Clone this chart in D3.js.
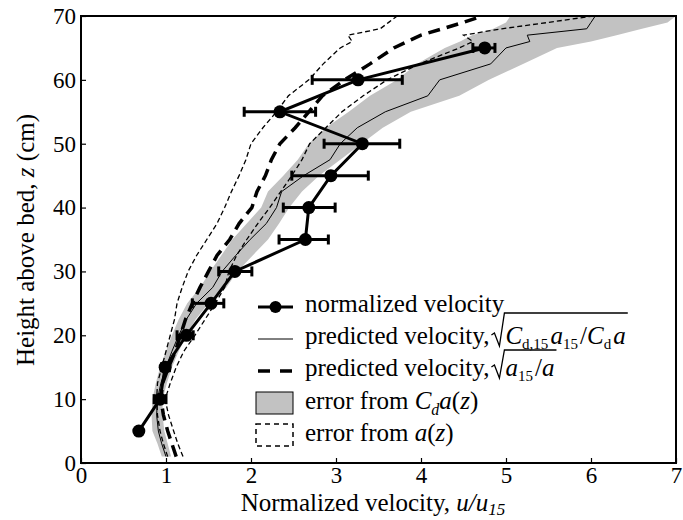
<!DOCTYPE html>
<html><head><meta charset="utf-8">
<script src="https://cdn.jsdelivr.net/npm/d3@7"></script>
<style>
body{margin:0;background:#fff}
svg{display:block}
text{font-family:"Liberation Serif","Times New Roman",serif;fill:#000}
</style>
</head><body>
<svg id="c" width="683" height="520"></svg>
<script>
// ---- data ----
const zGrid  = [1,3,5,7.5,10,12.5,15,17.5,20,22.5,25,27.5,30,32.5,35,37.5,40,42.5,45,47.5,50,52.5,55,57.5,60,62.5,65,66,67,68,69,70];
const cdLo   = [0.95,0.90,0.84,0.83,0.84,0.88,0.93,1.00,1.07,1.15,1.25,1.40,1.52,1.65,1.78,1.95,2.12,2.20,2.38,2.55,2.68,2.88,3.15,3.40,3.72,3.95,4.28,4.46,4.60,4.85,5.00,5.05];
const cdHi   = [1.06,1.02,0.98,0.96,0.96,1.01,1.07,1.15,1.24,1.35,1.50,1.71,1.84,2.02,2.20,2.33,2.45,2.60,2.80,3.05,3.30,3.55,3.88,4.45,4.80,5.20,5.60,6.00,6.30,6.60,6.90,7.00];
const predCd = [1.00,0.95,0.91,0.89,0.90,0.94,1.00,1.07,1.15,1.24,1.36,1.55,1.66,1.82,1.99,2.18,2.30,2.36,2.62,2.93,3.05,3.25,3.58,4.08,4.22,4.82,5.00,5.28,5.25,5.95,6.00,6.05];
const predA  = [1.12,1.07,1.02,0.97,0.94,0.96,1.03,1.11,1.17,1.23,1.31,1.40,1.50,1.60,1.75,1.86,2.01,2.07,2.17,2.24,2.34,2.52,2.68,2.84,3.10,3.40,3.68,3.84,4.00,4.25,4.50,4.72];
const aLo    = [1.02,0.97,0.93,0.90,0.89,0.90,0.95,1.00,1.05,1.10,1.13,1.19,1.26,1.36,1.48,1.60,1.69,1.77,1.86,1.94,2.00,2.14,2.30,2.44,2.68,2.85,3.05,3.19,3.14,3.52,3.62,3.72];
const aHi    = [1.20,1.14,1.09,1.03,0.99,1.05,1.12,1.21,1.34,1.46,1.58,1.69,1.74,1.83,1.95,2.08,2.22,2.35,2.48,2.60,2.69,2.88,3.07,3.32,3.60,3.98,4.45,4.61,4.50,4.95,5.50,6.03];

const velZ  = [5,10,15,20,25,30,35,40,45,50,55,60,65];
const velX  = [0.68,0.93,0.99,1.24,1.53,1.81,2.64,2.68,2.94,3.31,2.34,3.26,4.75];
const velLo = [0.68,0.86,0.95,1.13,1.31,1.62,2.33,2.38,2.48,2.86,1.92,2.72,4.61];
const velHi = [0.68,1.00,1.04,1.32,1.68,2.01,2.91,2.99,3.38,3.75,2.76,3.78,4.87];

const xTicks = [0,1,2,3,4,5,6,7];
const yTicks = [0,10,20,30,40,50,60,70];

// ---- layout ----
const svg = d3.select("#c");
const x = d3.scaleLinear().domain([0,7]).range([81,676]);
const y = d3.scaleLinear().domain([0,70]).range([463,16]);

svg.append("defs").append("clipPath").attr("id","clip")
  .append("rect").attr("x",81).attr("y",16).attr("width",595).attr("height",447);

const plot = svg.append("g").attr("clip-path","url(#clip)");

const rows = zGrid.map((z,i)=>({z, lo:cdLo[i], hi:cdHi[i], pc:predCd[i], pa:predA[i], al:aLo[i], ah:aHi[i]}));
const GRAY = "#c2c2c2";

plot.append("path").datum(rows)
  .attr("fill",GRAY)
  .attr("d", d3.area().y(d=>y(d.z)).x0(d=>x(d.lo)).x1(d=>x(d.hi)));

function line(key){ return d3.line().x(d=>x(d[key])).y(d=>y(d.z)); }

plot.append("path").datum(rows).attr("fill","none").attr("stroke","#000")
  .attr("stroke-width",1.3).attr("stroke-dasharray","5,3").attr("d", line("al"));
plot.append("path").datum(rows).attr("fill","none").attr("stroke","#000")
  .attr("stroke-width",1.3).attr("stroke-dasharray","5,3").attr("d", line("ah"));
plot.append("path").datum(rows).attr("fill","none").attr("stroke","#000")
  .attr("stroke-width",1).attr("d", line("pc"));
plot.append("path").datum(rows).attr("fill","none").attr("stroke","#000")
  .attr("stroke-width",3.5).attr("stroke-dasharray","12,7").attr("d", line("pa"));

// normalized velocity
const vel = velZ.map((z,i)=>({z, v:velX[i], lo:velLo[i], hi:velHi[i]}));
const eb = svg.append("g").attr("stroke","#000").attr("stroke-width",3);
vel.filter(d=>d.hi>d.lo).forEach(d=>{
  eb.append("line").attr("x1",x(d.lo)).attr("x2",x(d.hi)).attr("y1",y(d.z)).attr("y2",y(d.z));
  eb.append("line").attr("x1",x(d.lo)).attr("x2",x(d.lo)).attr("y1",y(d.z)-5).attr("y2",y(d.z)+5);
  eb.append("line").attr("x1",x(d.hi)).attr("x2",x(d.hi)).attr("y1",y(d.z)-5).attr("y2",y(d.z)+5);
});
svg.append("path").datum(vel).attr("fill","none").attr("stroke","#000").attr("stroke-width",3)
  .attr("d", d3.line().x(d=>x(d.v)).y(d=>y(d.z)));
svg.append("g").selectAll("circle").data(vel).join("circle")
  .attr("cx",d=>x(d.v)).attr("cy",d=>y(d.z)).attr("r",6.5).attr("fill","#000");

// axes
const ax = svg.append("g").attr("transform","translate(0,463)")
  .call(d3.axisBottom(x).tickValues(xTicks).tickSize(-5).tickPadding(5).tickFormat(d3.format("d")));
const ay = svg.append("g").attr("transform","translate(81,0)")
  .call(d3.axisLeft(y).tickValues(yTicks).tickSize(-5).tickPadding(5).tickFormat(d3.format("d")));
[ax,ay].forEach(a=>{
  a.select(".domain").remove();
  a.selectAll(".tick line").attr("stroke","#000").attr("stroke-width",1.2);
  a.selectAll(".tick text").style("font-size","23px").style("font-family",'"Liberation Serif","Times New Roman",serif');
});
ax.selectAll(".tick text").attr("dy","0.66em");
svg.append("rect").attr("x",81).attr("y",16).attr("width",595).attr("height",447)
  .attr("fill","none").attr("stroke","#000").attr("stroke-width",2);

// axis titles
const xt = svg.append("text").attr("x",373).attr("y",511).attr("text-anchor","middle").style("font-size","25px");
xt.append("tspan").text("Normalized velocity, ");
xt.append("tspan").attr("font-style","italic").text("u/u");
xt.append("tspan").attr("font-style","italic").attr("dy",4).style("font-size","17px").text("15");

const yt = svg.append("text").attr("transform","translate(34,240) rotate(-90)").attr("text-anchor","middle").style("font-size","25px");
yt.append("tspan").text("Height above bed, ");
yt.append("tspan").attr("font-style","italic").text("z");
yt.append("tspan").text(" (cm)");

// legend
const lg = svg.append("g");
const LX0 = 258, LX1 = 293, TX = 305;
const legendY = [312, 344, 376, 409, 441];
// row1
lg.append("line").attr("x1",LX0).attr("x2",LX1).attr("y1",legendY[0]-5).attr("y2",legendY[0]-5).attr("stroke","#000").attr("stroke-width",3);
lg.append("circle").attr("cx",(LX0+LX1)/2).attr("cy",legendY[0]-5).attr("r",6).attr("fill","#000");
lg.append("text").attr("x",TX).attr("y",legendY[0]).style("font-size","25px").text("normalized velocity");
// row2
lg.append("line").attr("x1",LX0).attr("x2",LX1).attr("y1",legendY[1]-5).attr("y2",legendY[1]-5).attr("stroke","#000").attr("stroke-width",1);
// row3
lg.append("line").attr("x1",LX0).attr("x2",LX1).attr("y1",legendY[2]-5).attr("y2",legendY[2]-5).attr("stroke","#000").attr("stroke-width",3.5).attr("stroke-dasharray","12,10");
// row4
lg.append("rect").attr("x",256).attr("y",legendY[3]-17).attr("width",37).attr("height",22).attr("fill",GRAY).attr("stroke","#000").attr("stroke-width",1);
lg.append("text").attr("x",TX).attr("y",legendY[3]).style("font-size","25px")
  .call(t=>{t.append("tspan").text("error from ");t.append("tspan").attr("font-style","italic").text("C");
    t.append("tspan").attr("font-style","italic").attr("dy",6).style("font-size","16px").text("d");
    t.append("tspan").attr("font-style","italic").attr("dy",-6).text("a");
    t.append("tspan").text("(");t.append("tspan").attr("font-style","italic").text("z");t.append("tspan").text(")");});
// row5
lg.append("rect").attr("x",256).attr("y",legendY[4]-17).attr("width",37).attr("height",22).attr("fill","none").attr("stroke","#000").attr("stroke-width",1.5).attr("stroke-dasharray","5,4");
lg.append("text").attr("x",TX).attr("y",legendY[4]).style("font-size","25px")
  .call(t=>{t.append("tspan").text("error from ");t.append("tspan").attr("font-style","italic").text("a");
    t.append("tspan").text("(");t.append("tspan").attr("font-style","italic").text("z");t.append("tspan").text(")");});

// rows with radicals
function radicalRow(by, overY, build){
  const t = lg.append("text").attr("x",TX).attr("y",by).style("font-size","25px");
  t.append("tspan").text("predicted velocity, ");
  const pre = t.node().getComputedTextLength();
  const rx = TX + pre + 2;
  const m = lg.append("text").attr("x",rx+14).attr("y",by).style("font-size","25px");
  build(m);
  const end = rx + 14 + m.node().getComputedTextLength() + 2;
  lg.append("path").attr("fill","none").attr("stroke","#000").attr("stroke-width",1.3)
    .attr("d",`M${rx},${by-9} L${rx+3},${by-11} L${rx+8},${by+2} L${rx+13},${overY} L${end},${overY}`);
}
function sub(m,s){ m.append("tspan").attr("dy",5).style("font-size","15px").text(s); m.append("tspan").attr("dy",-5).text("\u200a"); }
radicalRow(legendY[1], legendY[1]-31, m=>{
  m.append("tspan").attr("font-style","italic").text("C"); sub(m,"d,15");
  m.append("tspan").attr("font-style","italic").text("a"); sub(m,"15");
  m.append("tspan").text("/");
  m.append("tspan").attr("font-style","italic").text("C"); sub(m,"d");
  m.append("tspan").attr("font-style","italic").text("a");
});
radicalRow(legendY[2], legendY[2]-26, m=>{
  m.append("tspan").attr("font-style","italic").text("a"); sub(m,"15");
  m.append("tspan").text("/");
  m.append("tspan").attr("font-style","italic").text("a");
});
</script>
</body></html>
